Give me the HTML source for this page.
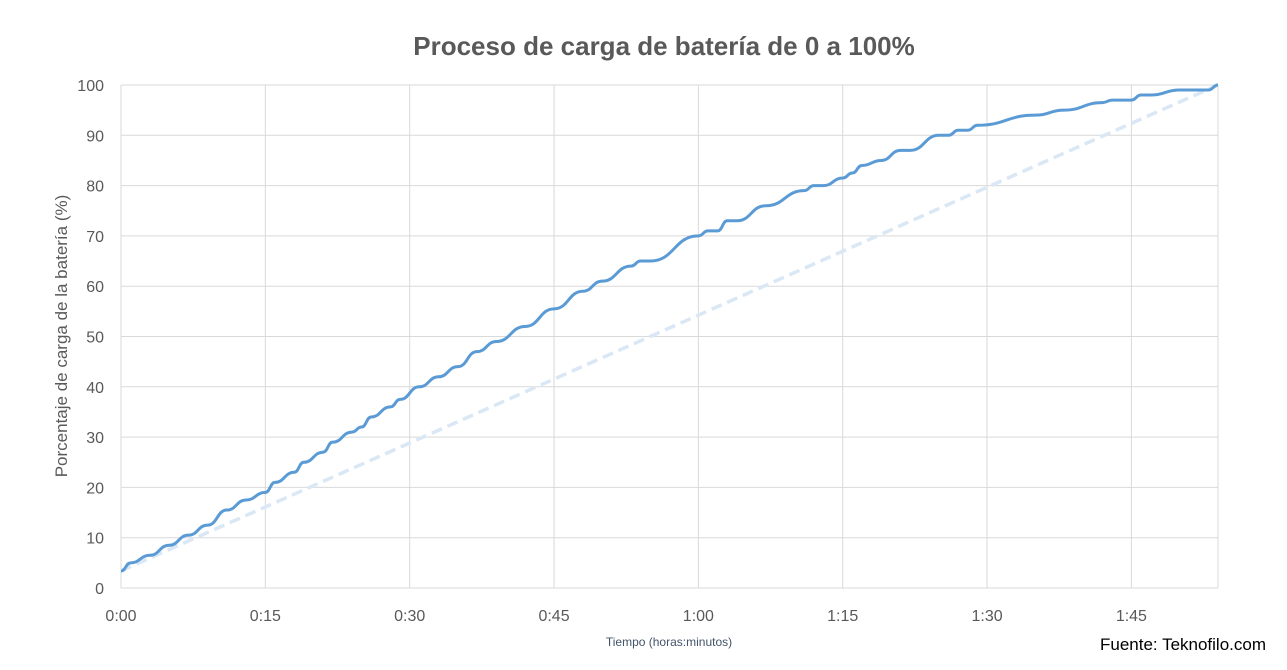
<!DOCTYPE html>
<html><head><meta charset="utf-8"><style>
body{margin:0;background:#fff;width:1287px;height:665px;overflow:hidden;font-family:"Liberation Sans",sans-serif}
</style></head><body>
<svg id="chart" width="1287" height="665" xmlns="http://www.w3.org/2000/svg">
<text x="664" y="55" text-anchor="middle" font-size="26" font-weight="bold" fill="#595959">Proceso de carga de batería de 0 a 100%</text>
<g id="grid"></g>
<g id="marks"></g>
<text transform="translate(67,336) rotate(-90)" text-anchor="middle" font-size="17" fill="#595959">Porcentaje de carga de la batería (%)</text>
<text x="669" y="646" text-anchor="middle" font-size="12" fill="#44546a">Tiempo (horas:minutos)</text>
<text x="1266" y="650" text-anchor="end" font-size="17" fill="#000">Fuente: Teknofilo.com</text>
</svg>
<script>
const minutes=[0,1,3,5,7,9,11,13,15,16,18,19,21,22,24,25,26,28,29,31,33,35,37,39,42,45,48,50,53,54,55,60,61,62,63,64,67,71,72,73,75,76,77,79,81,82,85,86,87,88,89,95,98,102,103,105,106,107,110,113,114];
const charge=[3.4,5,6.5,8.5,10.5,12.5,15.5,17.5,19,21,23,25,27,29,31,32,34,36,37.5,40,42,44,47,49,52,55.5,59,61,64,65,65,70,71,71,73,73,76,79,80,80,81.5,82.5,84,85,87,87,90,90,91,91,92,94,95,96.5,97,97,98,98,99,99,100];
const linearRef=[[0,3.4],[114,100]];
const yTicks=[0,10,20,30,40,50,60,70,80,90,100];
const xTicks=[0,15,30,45,60,75,90,105];
const xTickLabels=["0:00","0:15","0:30","0:45","1:00","1:15","1:30","1:45"];
const X0=121,X1=1218,TMAX=114,Y0=588,Y1=85;
const x=t=>X0+(X1-X0)*t/TMAX, y=v=>Y0-(Y0-Y1)*v/100;
const NS="http://www.w3.org/2000/svg";
const grid=document.getElementById('grid'),marks=document.getElementById('marks');
function mk(tag,attrs,parent){const e=document.createElementNS(NS,tag);for(const k in attrs)e.setAttribute(k,attrs[k]);parent.appendChild(e);return e;}
yTicks.forEach(v=>{
 const l=mk('line',{x1:X0,x2:X1,y1:y(v),y2:y(v),stroke:'#d9d9d9','stroke-width':1},grid);
 
 
 const t=mk('text',{x:104,y:y(v)+6,'text-anchor':'end','font-size':16,fill:'#595959'},grid);
 
 
 t.textContent=v;
});
xTicks.forEach((m,i)=>{
 const l=mk('line',{x1:x(m),x2:x(m),y1:Y1,y2:Y0,stroke:'#d9d9d9','stroke-width':1},grid);
 
 
 const t=mk('text',{x:x(m),y:621,'text-anchor':'middle','font-size':16,fill:'#595959'},grid);
 
 
 t.textContent=xTickLabels[i];
});
const r=mk('line',{x1:X1,x2:X1,y1:Y1,y2:Y0,stroke:'#d9d9d9'},grid);


const ref=mk('path',{d:'M'+linearRef.map(p=>x(p[0])+','+y(p[1])).join(' L'),fill:'none',stroke:'#dae7f5','stroke-width':3.5,'stroke-dasharray':'11,6'},marks);


const pts=minutes.map((m,i)=>[x(m),y(charge[i])]);
let d='M'+pts[0].join(',');
for(let i=1;i<pts.length;i++){const p0=pts[i-1],p1=pts[i],cx=(p0[0]+p1[0])/2;d+=` C${cx},${p0[1]} ${cx},${p1[1]} ${p1[0]},${p1[1]}`;}
const ln=mk('path',{d:d,fill:'none',stroke:'#5b9bd5','stroke-width':3,'stroke-linejoin':'round'},marks);


</script>
</body></html>
